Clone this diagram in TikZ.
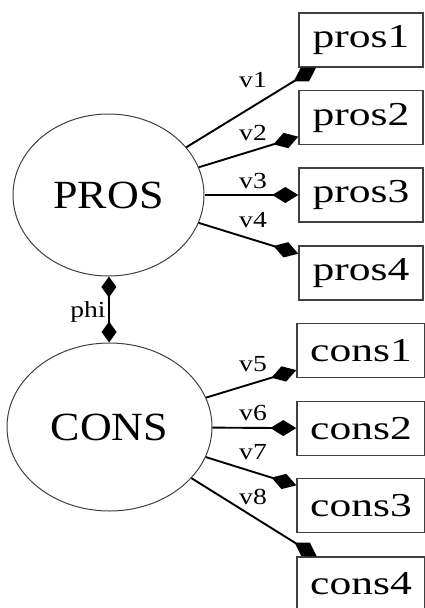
\documentclass[tikz,border=0pt]{standalone}
\usepackage{fontspec}
\setmainfont{Liberation Serif}
\newfontfamily\obsfont{Liberation Serif}[FakeStretch=1.3]
\newfontfamily\latfont{Liberation Serif}[FakeStretch=1.1]
\newfontfamily\lblfont{Liberation Serif}[FakeStretch=1.2]
\usetikzlibrary{arrows.meta,shapes.geometric}

\tikzset{
  latent/.style={ellipse, draw=black!75, line width=1pt, inner sep=0pt,
    minimum width=#1, font=\latfont\fontsize{40}{42}\selectfont},
  observed/.style={rectangle, draw=black!75, line width=1.4pt, inner sep=0pt,
    minimum height=54pt, font=\obsfont\fontsize{33.5}{35}\selectfont},
  loading/.style={line width=1.9pt, -{Diamond[length=26pt,width=16pt]}},
  covar/.style={line width=1.9pt,
    {Diamond[length=21pt,width=15pt]}-{Diamond[length=21pt,width=15pt]}},
  lbl/.style={inner sep=0pt, font=\lblfont\fontsize{23}{25}\selectfont}
}

\begin{document}
\begin{tikzpicture}[x=1pt,y=-1pt]
\useasboundingbox (0,0) rectangle (425,608);
\clip (0,0) rectangle (425,608);

% latent factors
\node[latent=191pt, minimum height=162pt] (PROS) at (108.5,195) {PROS};
\node[latent=205pt, minimum height=168pt] (CONS) at (109.5,427) {CONS};

% indicators
\node[observed, minimum width=124pt] (pros1) at (361,40)    {pros1};
\node[observed, minimum width=124pt] (pros2) at (361,117.5) {pros2};
\node[observed, minimum width=124pt] (pros3) at (361,195)   {pros3};
\node[observed, minimum width=124pt] (pros4) at (361,273)   {pros4};
\node[observed, minimum width=128pt] (cons1) at (361,350.5) {cons1};
\node[observed, minimum width=128pt] (cons2) at (361,428.5) {cons2};
\node[observed, minimum width=128pt] (cons3) at (361,505.5) {cons3};
\node[observed, minimum width=128pt] (cons4) at (361,584)   {cons4};

% loadings
\draw[loading] (PROS) -- (pros1);
\draw[loading] (PROS) -- (pros2);
\draw[loading] (PROS) -- (pros3);
\draw[loading] (PROS) -- (pros4);
\draw[loading] (CONS) -- (cons1);
\draw[loading] (CONS) -- (cons2);
\draw[loading] (CONS) -- (cons3);
\draw[loading] (CONS) -- (cons4);

% factor covariance
\draw[covar] (PROS) -- (CONS);

% parameter labels
\node[lbl] (lv1) at (253,80)  {v1};
\node[lbl] (lv2) at (253,133) {v2};
\node[lbl] (lv3) at (253,181) {v3};
\node[lbl] (lv4) at (253,220) {v4};
\node[lbl] (lv5) at (253,364) {v5};
\node[lbl] (lv6) at (253,413) {v6};
\node[lbl] (lv7) at (253,452) {v7};
\node[lbl] (lv8) at (253,497) {v8};
\node[lbl] (lphi) at (88,312) {phi};
\end{tikzpicture}
\end{document}
